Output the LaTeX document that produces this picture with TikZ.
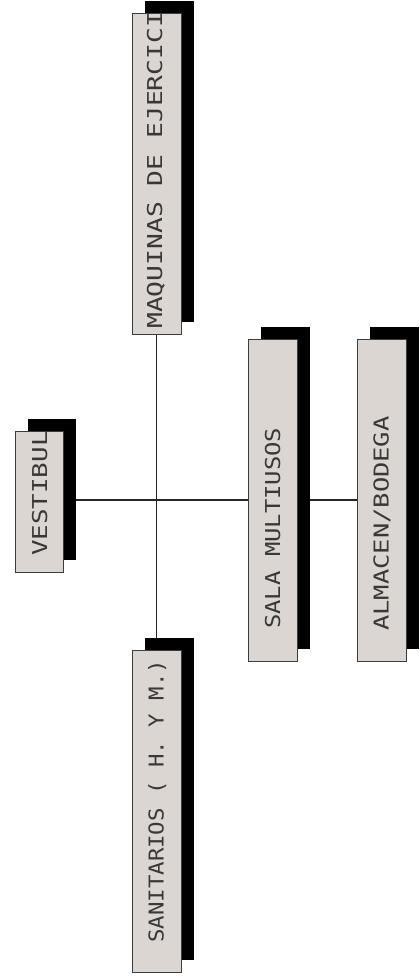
\documentclass[tikz,border=0pt]{standalone}
\usepackage{graphicx}
\usepackage{fontspec}
\newfontfamily\cadfont[FakeStretch=1.2]{DejaVu Sans Mono}
\usetikzlibrary{shadows}
\definecolor{boxfill}{RGB}{219,214,209}
\definecolor{boxline}{RGB}{60,60,60}
\pgfdeclarelayer{bg}
\pgfsetlayers{bg,main}
\begin{document}
\begin{tikzpicture}[x=1pt,y=-1pt,
  room/.style={rectangle, draw=boxline, fill=boxfill, line width=1pt, inner sep=0pt,
    drop shadow={shadow xshift=13pt, shadow yshift=12pt, fill=black, opacity=1}},
  lbl/.style={rotate=90, anchor=west, inner sep=0pt, text height=15pt, text depth=0pt,
    text=black!78, font=\cadfont\fontsize{20.5pt}{21pt}\selectfont},
  link/.style={draw=black!85, line width=1.2pt}]
\useasboundingbox (0,0) rectangle (420,977);

\node[room, minimum width=48pt, minimum height=141pt] (vest) at (39,501.5) {};
\node[room, minimum width=49pt, minimum height=321pt] (maq) at (156.5,173.5) {};
\node[room, minimum width=49pt, minimum height=322pt] (san) at (156.5,811) {};
\node[room, minimum width=49pt, minimum height=322pt] (sala) at (272.5,500) {};
\node[room, minimum width=49pt, minimum height=322pt] (alm) at (381.5,500) {};

\begin{scope}
  \clip (vest.south west) rectangle (vest.north east);
  \node[lbl] (tvest) at (39.5,556) {\scalebox{1.05}[1]{VESTIBULO}};
\end{scope}
\begin{scope}
  \clip (maq.south west) rectangle (maq.north east);
  \node[lbl] (tmaq) at (154.5,329) {\scalebox{1.07}[1]{MAQUINAS DE EJERCICIOS}};
\end{scope}
\begin{scope}
  \clip (san.south west) rectangle (san.north east);
  \node[lbl] (tsan) at (156,943) {\scalebox{0.91}[1]{SANITARIOS ( H. Y M.)}};
\end{scope}
\begin{scope}
  \clip (sala.south west) rectangle (sala.north east);
  \node[lbl] (tsala) at (272.5,629) {\scalebox{0.97}[1]{SALA MULTIUSOS}};
\end{scope}
\begin{scope}
  \clip (alm.south west) rectangle (alm.north east);
  \node[lbl] (talm) at (381,631) {\scalebox{1.034}[1]{ALMACEN/BODEGA}};
\end{scope}

\begin{pgfonlayer}{bg}
  \fill[white] (0,0) rectangle (420,977);
  \draw[link] (vest.east |- sala.center) -- (alm.west);
  \draw[link] (maq.south) -- (san.north);
\end{pgfonlayer}
\end{tikzpicture}
\end{document}
